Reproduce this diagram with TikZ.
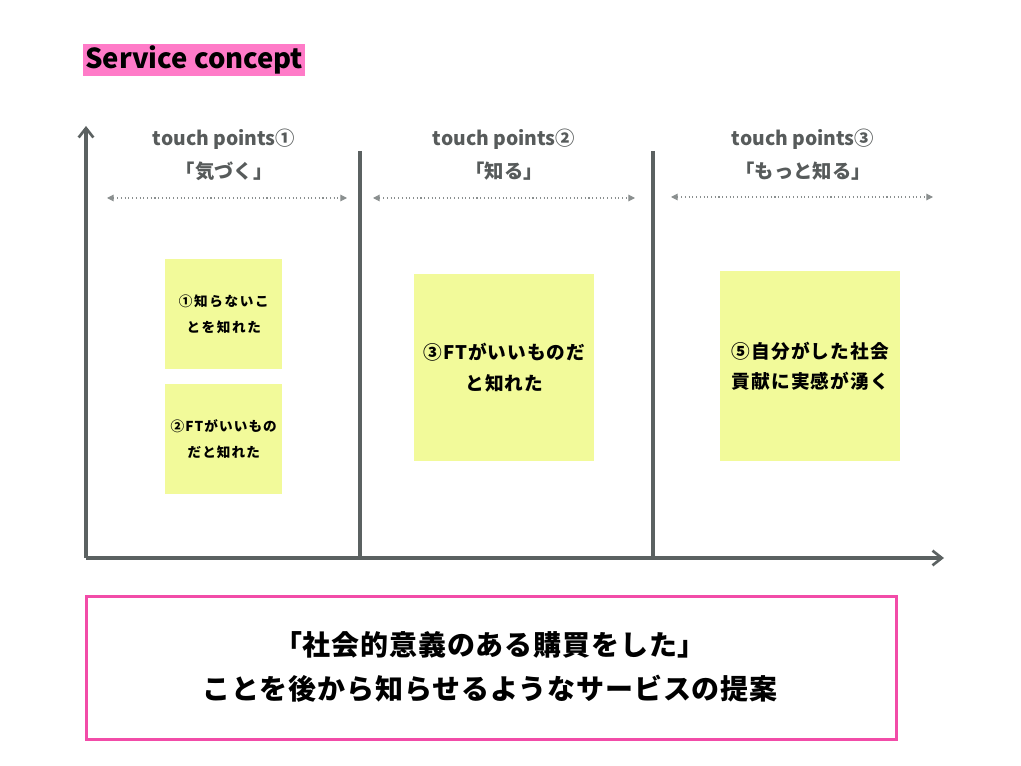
\documentclass[tikz,border=0pt]{standalone}
\usepackage{fontspec}
\setmainfont{Noto Sans CJK JP}
\usetikzlibrary{arrows.meta}
\definecolor{axisgray}{HTML}{5B6161}
\definecolor{textgray}{HTML}{575B5B}
\definecolor{dotgray}{HTML}{8A8F8F}
\definecolor{sticky}{HTML}{F2FA9A}
\definecolor{titlepink}{HTML}{FF7BC8}
\definecolor{boxpink}{HTML}{F24CA8}
\tikzset{
  axis/.style={draw=axisgray, line width=2.4pt},
  divider/.style={draw=axisgray, line width=2.4pt},
  span/.style={draw=dotgray, line width=0.8pt, dotted, {Triangle[length=5pt,width=5pt]}-{Triangle[length=5pt,width=5pt]}},
  header/.style={text=textgray, font=\bfseries\fontsize{14.5}{17}\selectfont, align=center},
  note/.style={fill=sticky, draw=none, inner sep=0pt, anchor=north west},
  notetext/.style={align=center},
}
\begin{document}
\begin{tikzpicture}[x=0.75pt,y=-0.75pt]
\useasboundingbox (0,0) rectangle (1021,766);
% title
\node[fill=titlepink, minimum width=222*0.75pt, minimum height=32*0.75pt, inner sep=0pt, anchor=north west,
  font=\bfseries\fontsize{20.6}{22}\selectfont] (title) at (83,44) {Service concept};
% axes
\coordinate (origin) at (86,558);
\coordinate (ytop) at (86,126);
\coordinate (xend) at (944,558);
\draw[axis, -{Straight Barb[length=7pt,width=11pt,line width=2pt]}] (origin) -- (ytop);
\draw[axis, -{Straight Barb[length=7pt,width=11pt,line width=2pt]}] (origin) -- (xend);
% dividers
\coordinate (d1t) at (360,151);
\coordinate (d1b) at (360,558);
\coordinate (d2t) at (653,151);
\coordinate (d2b) at (653,558);
\draw[divider] (d1t) -- (d1b);
\draw[divider] (d2t) -- (d2b);
% headers
\node[header] (h1a) at (224,139) {touch points①};
\node[header] (h1b) at (224,171) {「気づく」};
\node[header] (h2a) at (504,139) {touch points②};
\node[header] (h2b) at (504,171) {「知る」};
\node[header] (h3a) at (803,139) {touch points③};
\node[header] (h3b) at (803,171) {「もっと知る」};
% spans
\coordinate (s1l) at (107,198);
\coordinate (s1r) at (347,198);
\coordinate (s2l) at (373,198);
\coordinate (s2r) at (635,198);
\coordinate (s3l) at (671,197);
\coordinate (s3r) at (933,197);
\draw[span] (s1l) -- (s1r);
\draw[span] (s2l) -- (s2r);
\draw[span] (s3l) -- (s3r);
% sticky notes
\node[note, minimum width=117*0.75pt, minimum height=110*0.75pt] (n1) at (165,259) {};
\node[notetext, font=\bfseries\fontsize{10.2}{19}\selectfont\addfontfeature{LetterSpace=12}] (t1) at (n1.center) {①知らないこ\\とを知れた};
\node[note, minimum width=117*0.75pt, minimum height=110*0.75pt] (n2) at (165,384) {};
\node[notetext, font=\bfseries\fontsize{10.2}{19}\selectfont\addfontfeature{LetterSpace=8}] (t2) at (n2.center) {②FTがいいもの\\だと知れた};
\node[note, minimum width=180*0.75pt, minimum height=187*0.75pt] (n3) at (414,274) {};
\node[notetext, font=\bfseries\fontsize{14}{23}\selectfont\addfontfeature{LetterSpace=5}] (t3) at (n3.center) {③FTがいいものだ\\と知れた};
\node[note, minimum width=180*0.75pt, minimum height=190*0.75pt] (n4) at (720,271) {};
\node[notetext, font=\bfseries\fontsize{14}{23}\selectfont\addfontfeature{LetterSpace=6}] (t4) at (n4.center) {⑤自分がした社会\\貢献に実感が湧く};
% bottom box
\node[draw=boxpink, line width=2.3pt, minimum width=810*0.75pt, minimum height=143*0.75pt, anchor=north west] (box) at (85,595) {};
\node[align=center, font=\bfseries\fontsize{21}{33}\selectfont\addfontfeature{LetterSpace=3}] (boxtext) at (490,667) {「社会的意義のある購買をした」\\ことを後から知らせるようなサービスの提案};
\end{tikzpicture}
\end{document}
